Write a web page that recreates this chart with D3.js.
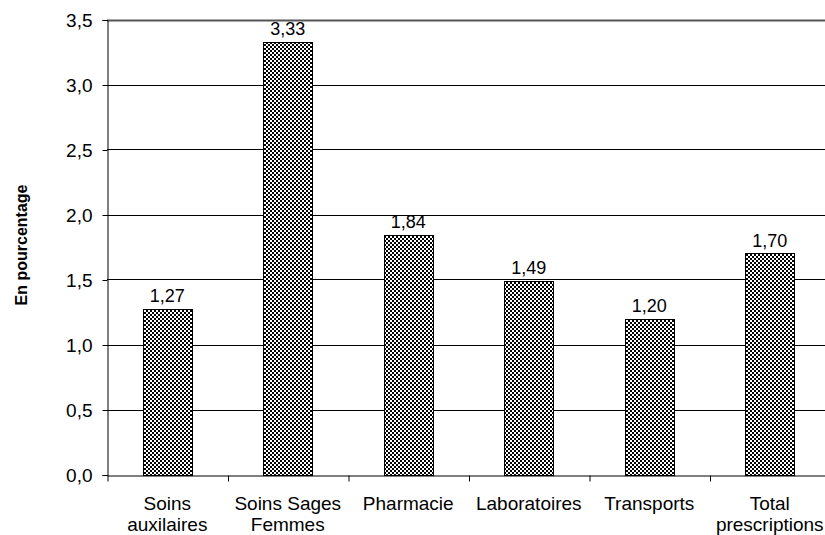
<!DOCTYPE html>
<html><head><meta charset="utf-8">
<script src="https://cdn.jsdelivr.net/npm/d3@7"></script>
<style>body{margin:0;background:#fff}svg{display:block;font-family:"Liberation Sans",Arial,sans-serif}</style>
</head><body><svg id="c" width="825" height="535"></svg>
<script>
const categories = [["Soins","auxilaires"],["Soins Sages","Femmes"],["Pharmacie"],["Laboratoires"],["Transports"],["Total","prescriptions"]];
const values = [1.27, 3.33, 1.84, 1.49, 1.20, 1.70];
const yTicks = [0, 0.5, 1.0, 1.5, 2.0, 2.5, 3.0, 3.5];
const yLabel = "En pourcentage";

(function(){
const svg = d3.select("#c");
const mLeft = 107, mRight = 830, mTop = 19.5, mBottom = 474.5;
const fmt = v => d3.format(".1f")(v).replace(".", ",");
const fmt2 = v => d3.format(".2f")(v).replace(".", ",");

const defs = svg.append("defs");
const pat = defs.append("pattern").attr("id","chk").attr("patternUnits","userSpaceOnUse")
  .attr("width",4).attr("height",4);
pat.append("rect").attr("width",4).attr("height",4).attr("fill","#fff");
pat.append("rect").attr("x",0).attr("y",0).attr("width",2).attr("height",2).attr("fill","#000");
pat.append("rect").attr("x",2).attr("y",2).attr("width",2).attr("height",2).attr("fill","#000");

const x = d3.scaleBand().domain(d3.range(categories.length)).range([mLeft, mRight]).padding(0);
const y = d3.scaleLinear().domain([0, 3.5]).range([mBottom, mTop]);
const barW = x.bandwidth() * 0.405;

// gridlines
svg.append("g").selectAll("line").data(yTicks.filter(t => t > 0)).join("line")
  .attr("x1", mLeft).attr("x2", mRight)
  .attr("y1", d => Math.round(y(d)) + 0.5).attr("y2", d => Math.round(y(d)) + 0.5)
  .attr("stroke", d => d === 3.5 ? "#555" : "#000")
  .attr("stroke-width", d => d === 3.5 ? 2 : 1);

// y axis
const yAxis = svg.append("g").attr("transform", `translate(${mLeft + 0.5},0.5)`)
  .call(d3.axisLeft(y).tickValues(yTicks).tickFormat(fmt).tickSize(5).tickPadding(10));
yAxis.select(".domain").attr("stroke","#000");
yAxis.selectAll("line").attr("stroke","#000");
yAxis.selectAll("text").attr("font-size", 19).attr("fill","#000").attr("font-family","inherit");

// bars
svg.append("g").selectAll("rect").data(values).join("rect")
  .attr("x", (d,i) => Math.round(x(i) + x.bandwidth()/2 - barW/2) + 0.5)
  .attr("width", Math.round(barW))
  .attr("y", d => Math.round(y(d)) + 0.5)
  .attr("height", d => Math.round(mBottom) - Math.round(y(d)))
  .attr("fill","url(#chk)").attr("stroke","#000").attr("stroke-width",1);

// value labels
svg.append("g").selectAll("text").data(values).join("text")
  .attr("x", (d,i) => x(i) + x.bandwidth()/2)
  .attr("y", d => y(d) - 7)
  .attr("text-anchor","middle").attr("font-size",18).attr("fill","#000")
  .text(fmt2);

// x axis
const xl = d3.scaleLinear().domain([0, categories.length]).range([mLeft, mRight]);
const xAxis = svg.append("g").attr("transform", `translate(0.5,${Math.round(mBottom)+0.5})`)
  .call(d3.axisBottom(xl).tickValues(d3.range(categories.length+1)).tickFormat("").tickSize(6).tickSizeOuter(0));
xAxis.select(".domain").attr("stroke","#000");
xAxis.selectAll("line").attr("stroke","#000");

// category labels
const cg = svg.append("g").selectAll("text").data(categories).join("text")
  .attr("text-anchor","middle").attr("font-size",19).attr("fill","#000")
  .attr("transform",(d,i) => `translate(${x(i) + x.bandwidth()/2},510)`);
cg.selectAll("tspan").data(d => d).join("tspan")
  .attr("x",0).attr("y",(d,j) => j*21).text(d => d);

// y label
svg.append("text").attr("transform","translate(27,245) rotate(-90)")
  .attr("text-anchor","middle").attr("font-size",16).attr("font-weight","bold").attr("fill","#000")
  .text(yLabel);
})();
</script></body></html>
